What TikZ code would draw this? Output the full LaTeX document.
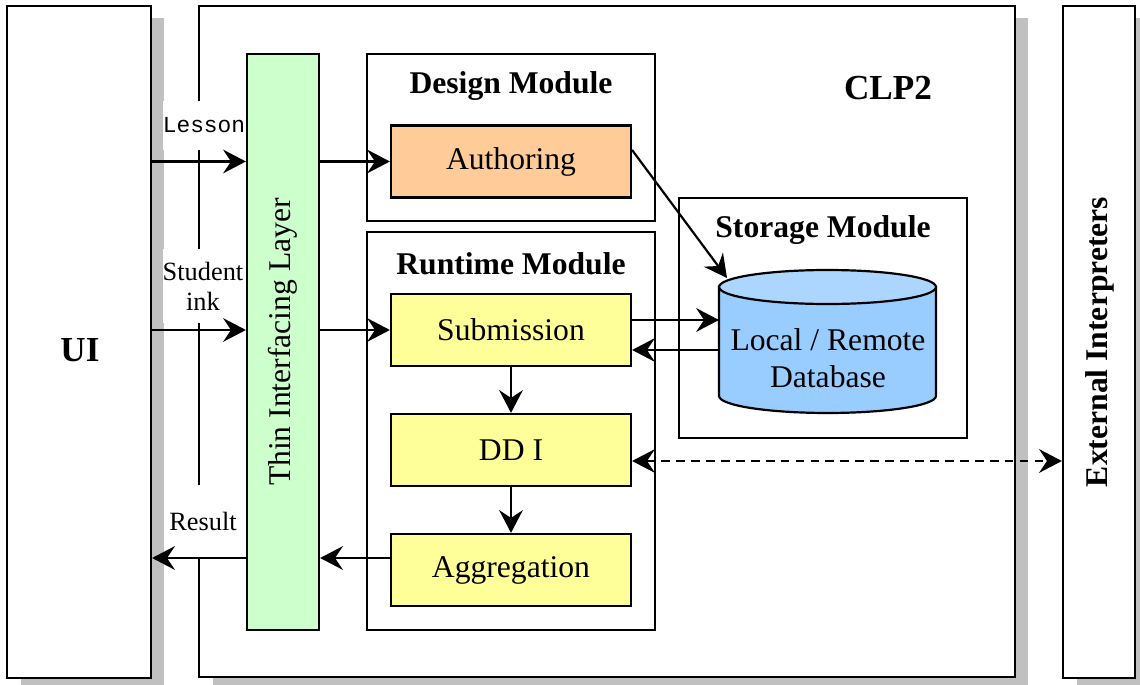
\documentclass[tikz,border=0pt]{standalone}
\usepackage{fontspec}
\setmainfont{Liberation Serif}
\newfontfamily\lessonfont{Liberation Mono}
\usetikzlibrary{arrows.meta,positioning,shapes.geometric,shadows}

\definecolor{shadegray}{RGB}{192,192,192}
\definecolor{layergreen}{RGB}{204,255,204}
\definecolor{authorange}{RGB}{255,204,153}
\definecolor{stepyellow}{RGB}{255,255,153}
\definecolor{dbblue}{RGB}{153,204,255}
\definecolor{dbtop}{RGB}{172,214,255}

\tikzset{
  panel/.style={draw, fill=white,
    drop shadow={shadow xshift=0.27cm, shadow yshift=-0.24cm, fill=shadegray, opacity=1}},
  module/.style={draw, fill=white, minimum width=5.76cm},
  block/.style={draw, minimum width=4.8cm, minimum height=1.44cm,
    font=\fontsize{18}{21}\selectfont},
  title/.style={font=\fontsize{18}{21}\selectfont\bfseries},
  bigtitle/.style={font=\fontsize{20}{24}\selectfont\bfseries},
  side/.style={fill=white, inner xsep=0pt, align=center,
    font=\fontsize{15}{17}\selectfont},
}

\begin{document}
\begin{tikzpicture}[x=0.02cm, y=-0.02cm, line width=1.25pt,
  >={Stealth[length=13pt,width=13.5pt,inset=4.5pt]}]
\useasboundingbox (0,0) rectangle (1140,685);

% outer columns
\node[panel, minimum width=2.88cm, minimum height=13.44cm] (ui) at (79,342) {};
\node[bigtitle] (uititle) at (80,350) {UI};
\node[panel, minimum width=16.32cm, minimum height=13.42cm] (clp) at (607,341.5) {};
\node[bigtitle] (clptitle) at (888,88) {CLP2};
\node[panel, minimum width=1.44cm, minimum height=13.44cm] (ext) at (1099,342) {};
\node[title, rotate=90] (exttitle) at (1100,342) {External Interpreters};

% interfacing layer
\node[draw, fill=layergreen, minimum width=1.44cm, minimum height=11.52cm] (til) at (283,342) {};
\node[rotate=90, font=\fontsize{18}{21}\selectfont] (tiltitle) at (til) {Thin Interfacing Layer};

% modules
\node[module, minimum height=3.34cm] (design) at (511,137.5) {};
\node[title] (designtitle) at (511,86) {Design Module};
\node[block, fill=authorange] (auth) at (511,161.5) {Authoring};

\node[module, minimum height=7.96cm] (runtime) at (511,431) {};
\node[title] (runtimetitle) at (511,264) {Runtime Module};
\foreach \name/\txt/\y in {sub/Submission/330, ddi/DD I/450, agg/Aggregation/570}
  \node[block, fill=stepyellow] (\name) at (511,\y) {\txt};

\node[module, minimum height=4.8cm] (storage) at (823,318) {};
\node[title] (storagetitle) at (823,230) {Storage Module};

% database drum
\node[inner sep=0pt, outer sep=0pt, minimum width=4.34cm, minimum height=2.86cm] (db) at (827.5,341.5) {};
\draw[fill=dbblue] ([yshift=-0.34cm]db.north west) -- ([yshift=0.34cm]db.south west)
  arc[start angle=180, end angle=360, x radius=2.17cm, y radius=0.34cm]
  -- ([yshift=-0.34cm]db.north east) -- cycle;
\draw[fill=dbtop] ([yshift=-0.34cm]db.north) ellipse[x radius=2.17cm, y radius=0.34cm];
\node[align=center, font=\fontsize{18}{21}\selectfont] (dbtext) at (828,358) {Local / Remote\\Database};

% labels on the CLP2 edge
\node[side, minimum height=0.98cm, font=\lessonfont\fontsize{13}{15}\selectfont] (lesson) at (204,125.5) {Lesson};
\node[side, minimum height=1.48cm] (stink) at (203,286) {Student\\ink};
\node[side, minimum height=1.46cm] (result) at (203,521.5) {Result};

% input from the UI
\draw[->] (ui.east |- auth.west) -- (til.west |- auth.west);
\draw[->] (til.east |- auth.west) -- (auth.west);
\draw[->] (ui.east |- sub.west) -- (til.west |- sub.west);
\draw[->] (til.east |- sub.west) -- (sub.west);

% runtime chain
\draw[->] (sub) -- (ddi);
\draw[->] (ddi) -- (agg);

% result back to the UI
\coordinate (back) at ([yshift=0.24cm]agg.west);
\draw[->] (back) -- (til.east |- back);
\draw[->] (til.west |- back) -- (ui.east |- back);

% storage
\draw[->] ([yshift=0.23cm]auth.east) -- ([shift={(0.16cm,-0.16cm)}]db.north west);
\coordinate (subout) at ([yshift=0.2cm]sub.east);
\coordinate (subin) at ([yshift=-0.4cm]sub.east);
\draw[->] (subout) -- (subout -| db.west);
\draw[->] (subin -| db.west) -- (subin);

% external interpreters
\coordinate (ddiout) at ([yshift=-0.22cm]ddi.east);
\draw[<->, dash pattern=on 5pt off 3.5pt] (ddiout) -- (ddiout -| ext.west);

\end{tikzpicture}
\end{document}
